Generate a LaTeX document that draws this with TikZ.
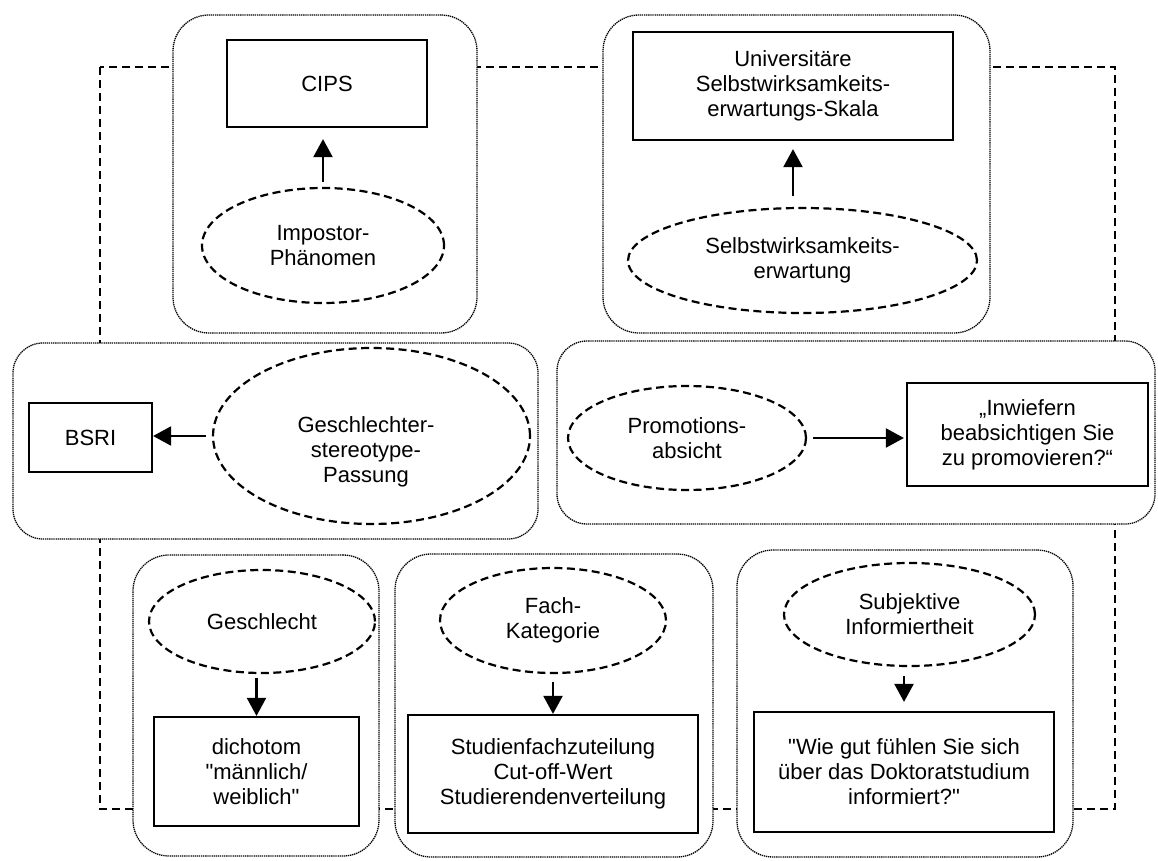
\documentclass[tikz,border=0pt]{standalone}
\usepackage{fontspec}
\setmainfont{Liberation Sans}
\usetikzlibrary{arrows.meta,shapes.geometric}
% straight double quote, set as a glyph so the TeX ligature mapping leaves it alone
\newcommand{\sq}{\XeTeXglyph\XeTeXcharglyph"0022\relax}

\begin{document}
\begin{tikzpicture}[x=1pt,y=-1pt,
  every node/.style={font=\fontsize{22}{25}\selectfont, align=center, inner sep=0pt},
  group/.style={draw, rectangle, line width=1.3pt, dash pattern=on 1.3pt off 0.8pt,
                fill=white, rounded corners=36pt},
  measure/.style={draw, rectangle, line width=2.2pt, fill=white},
  construct/.style={draw, ellipse, line width=2.2pt, dash pattern=on 8pt off 4.5pt},
  link/.style={line width=2.2pt, -{Triangle[length=18pt,width=19pt]}},
  frame/.style={line width=2.2pt, dash pattern=on 8pt off 5pt}
]
\useasboundingbox (0,0) rectangle (1158,861);

% dashed frame behind all groups
\draw[frame] (100,67) rectangle (1115,809);

% groups
\node[group, minimum width=304pt, minimum height=318pt] (gTL) at (325,174) {};
\node[group, minimum width=387pt, minimum height=318pt] (gTR) at (796.5,174) {};
\node[group, minimum width=525pt, minimum height=196pt, rounded corners=30pt] (gML) at (275.5,441) {};
\node[group, minimum width=598pt, minimum height=183pt, rounded corners=30pt] (gMR) at (856,432.5) {};
\node[group, minimum width=246pt, minimum height=301pt] (gBL) at (256,705.5) {};
\node[group, minimum width=318pt, minimum height=303pt] (gBM) at (554,705.5) {};
\node[group, minimum width=336pt, minimum height=307pt] (gBR) at (905,703.5) {};

% measures
\node[measure, minimum width=200pt, minimum height=87pt] (cips) at (327,83.5) {CIPS};
\node[measure, minimum width=320pt, minimum height=108pt] (uswe) at (793,86)
  {Universitäre\\Selbstwirksamkeits-\\erwartungs-Skala};
\node[measure, minimum width=123pt, minimum height=69pt] (bsri) at (90.5,437.5) {BSRI};
\node[measure, minimum width=241pt, minimum height=103pt] (inw) at (1027.5,434.5)
  {„Inwiefern\\beabsichtigen Sie\\zu promovieren?“};
\node[measure, minimum width=205pt, minimum height=109pt] (dich) at (256.5,771.5)
  {dichotom\\\sq männlich/\\weiblich\sq};
\node[measure, minimum width=290pt, minimum height=118pt] (fachm) at (553,774)
  {Studienfachzuteilung\\Cut-off-Wert\\Studierendenverteilung};
\node[measure, minimum width=300pt, minimum height=120pt] (info) at (904,772)
  {\sq Wie gut fühlen Sie sich\\über das Doktoratstudium\\informiert?\sq};

% constructs
\node[construct, minimum width=242pt, minimum height=115pt] (imp) at (323,245.5)
  {Impostor-\\Phänomen};
\node[construct, minimum width=349pt, minimum height=105pt] (swe) at (802.5,260.5)
  {Selbstwirksamkeits-\\erwartung};
\node[construct, minimum width=317pt, minimum height=176pt] (gsp) at (371.5,436) {};
\node (gsptext) at (366,452) {Geschlechter-\\stereotype-\\Passung};
\node[construct, minimum width=238pt, minimum height=104pt] (prom) at (687,438)
  {Promotions-\\absicht};
\node[construct, minimum width=226pt, minimum height=103pt] (gen) at (262,621.5)
  {Geschlecht};
\node[construct, minimum width=226pt, minimum height=105pt] (fach) at (553,620.5)
  {Fach-\\Kategorie};
\node[construct, minimum width=251pt, minimum height=103pt] (subj) at (909.5,614.5)
  {Subjektive\\Informiertheit};

% connectors
\draw[link, shorten <=5pt, shorten >=11pt] (imp.north) -- (imp.north |- cips.south);
\draw[link, shorten <=11pt, shorten >=8pt] (uswe.south |- swe.north) -- (uswe.south);
\draw[link, shorten <=6pt] (gsp.west) -- (gsp.west -| bsri.east);
\draw[link, shorten <=6pt, shorten >=2pt] (prom.east) -- (prom.east -| inw.west);
\draw[link, shorten <=4pt] (dich.north |- gen.south) -- (dich.north);
\draw[link, shorten <=8pt] (fachm.north |- fach.south) -- (fachm.north);
\draw[link, shorten <=9pt, shorten >=9pt] (info.north |- subj.south) -- (info.north);
\end{tikzpicture}
\end{document}
